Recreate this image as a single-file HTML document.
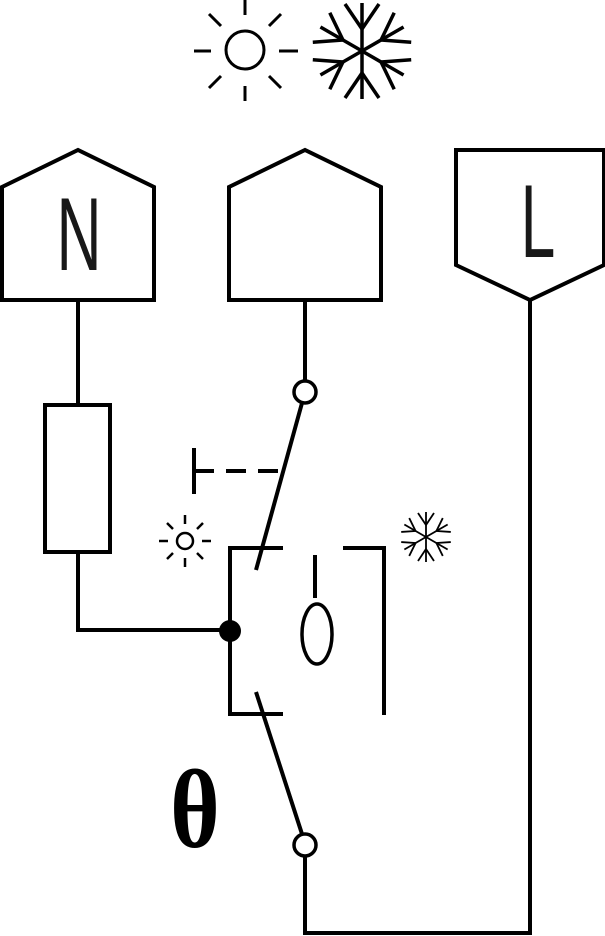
<!DOCTYPE html>
<html><head><style>body{margin:0;background:#fff}</style></head><body>
<svg width="605" height="936" xmlns="http://www.w3.org/2000/svg" style="display:block">
<g fill="none" stroke="#000" stroke-width="4">
<polygon points="2,300 2,187 78,150 154,187 154,300"/>
<polygon points="229,300 229,187 305,150 381,187 381,300"/>
<polygon points="456,150 604,150 604,265 530,300 456,265"/>
<polyline points="78,300 78,405"/>
<rect x="45" y="405" width="65" height="147"/>
<polyline points="78,552 78,630 230,630"/>
<line x1="305" y1="300" x2="305" y2="381"/>
<circle cx="305" cy="392" r="11" stroke-width="3.5"/>
<line x1="302" y1="403" x2="256" y2="570"/>
<line x1="194" y1="448" x2="194" y2="494"/>
<line x1="194" y1="471" x2="280" y2="471" stroke-dasharray="20,12"/>
<polyline points="283,548 230,548 230,714 283,714"/>
<polyline points="343,548 384,548 384,715"/>
<line x1="315" y1="555" x2="315" y2="598"/>
<ellipse cx="317" cy="634" rx="15" ry="30" stroke-width="3.5"/>
<line x1="256" y1="692" x2="302" y2="834"/>
<circle cx="305" cy="845" r="11" stroke-width="3.5"/>
<polyline points="530,300 530,933 305,933 305,856"/>
</g>
<circle cx="230" cy="631" r="11" fill="#000"/>
<g stroke="#000" stroke-width="3" fill="none">
<circle cx="245" cy="50" r="19"/>
<line x1="245" y1="0" x2="245" y2="15"/><line x1="245" y1="86" x2="245" y2="101"/>
<line x1="194" y1="51" x2="211" y2="51"/><line x1="279" y1="51" x2="298" y2="51"/>
<line x1="209" y1="14" x2="221" y2="26"/><line x1="281" y1="14" x2="269" y2="26"/>
<line x1="209" y1="88" x2="221" y2="76"/><line x1="281" y1="88" x2="269" y2="76"/>
</g>
<g stroke="#000" stroke-width="3.5" fill="none" transform="translate(362,51)">
<g id="arm"><line x1="0" y1="0" x2="0" y2="-48"/><line x1="0" y1="-22" x2="-17" y2="-47"/><line x1="0" y1="-22" x2="17" y2="-47"/></g>
<use href="#arm" transform="rotate(60)"/><use href="#arm" transform="rotate(120)"/><use href="#arm" transform="rotate(180)"/><use href="#arm" transform="rotate(240)"/><use href="#arm" transform="rotate(300)"/>
</g>
<g stroke="#000" stroke-width="2.5" fill="none">
<circle cx="185" cy="541" r="8"/>
<line x1="185" y1="515" x2="185" y2="524"/><line x1="185" y1="558" x2="185" y2="567"/>
<line x1="159" y1="541" x2="168" y2="541"/><line x1="202" y1="541" x2="211" y2="541"/>
<line x1="167" y1="523" x2="173" y2="529"/><line x1="203" y1="523" x2="197" y2="529"/>
<line x1="167" y1="559" x2="173" y2="553"/><line x1="203" y1="559" x2="197" y2="553"/>
</g>
<g stroke="#000" stroke-width="1.8" fill="none" transform="translate(426,537)">
<g id="arm2"><line x1="0" y1="0" x2="0" y2="-25"/><line x1="0" y1="-12" x2="-8" y2="-24"/><line x1="0" y1="-12" x2="8" y2="-24"/></g>
<use href="#arm2" transform="rotate(60)"/><use href="#arm2" transform="rotate(120)"/><use href="#arm2" transform="rotate(180)"/><use href="#arm2" transform="rotate(240)"/><use href="#arm2" transform="rotate(300)"/>
</g>
<text transform="translate(79,270) scale(0.6,1)" font-family="Liberation Sans, sans-serif" font-size="104" text-anchor="middle" font-weight="normal" fill="#fff" stroke="#000" stroke-width="0">N</text>
<text transform="translate(79,270) scale(0.6,1)" font-family="Liberation Sans, sans-serif" font-size="104" text-anchor="middle" font-weight="normal" fill="#000" opacity="0.9">N</text>
<text transform="translate(538,257) scale(0.6,1)" font-family="Liberation Sans, sans-serif" font-size="104" text-anchor="middle" fill="#000" opacity="0.9">L</text>
<text transform="translate(195,847) scale(0.85,1)" font-family="Liberation Serif, serif" font-size="112" font-weight="bold" text-anchor="middle">θ</text>
</svg>
</body></html>
